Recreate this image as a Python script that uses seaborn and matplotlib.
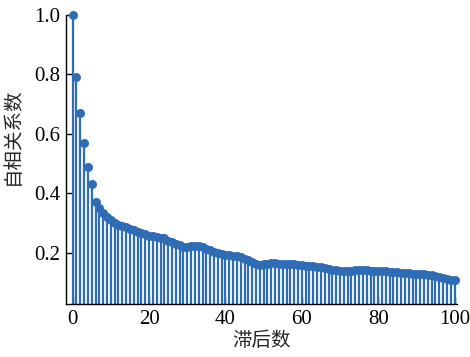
import numpy as np
import pandas as pd
import matplotlib
matplotlib.use("Agg")
import matplotlib.pyplot as plt
import seaborn as sns

lags = list(range(0, 101))
acf = [1.0, 0.79, 0.67, 0.57, 0.49, 0.43, 0.37, 0.35, 0.335, 0.32, 0.31,
       0.30, 0.295, 0.29, 0.285, 0.28, 0.275, 0.27, 0.265, 0.262, 0.258,
       0.255, 0.252, 0.25, 0.248, 0.24, 0.235, 0.23, 0.225, 0.22, 0.218,
       0.222, 0.224, 0.222, 0.218, 0.213, 0.208, 0.204, 0.2, 0.197, 0.194,
       0.191, 0.19, 0.188, 0.185, 0.18, 0.175, 0.168, 0.162, 0.16, 0.162,
       0.163, 0.164, 0.164, 0.163, 0.163, 0.162, 0.162, 0.161, 0.16, 0.158,
       0.157, 0.156, 0.155, 0.153, 0.151, 0.149, 0.146, 0.143, 0.141, 0.14,
       0.139, 0.139, 0.14, 0.141, 0.142, 0.142, 0.141, 0.14, 0.14, 0.139,
       0.138, 0.137, 0.136, 0.135, 0.134, 0.133, 0.132, 0.131, 0.13, 0.129,
       0.128, 0.127, 0.126, 0.125, 0.123, 0.12, 0.115, 0.11, 0.108, 0.109]
xticks = [0, 20, 40, 60, 80, 100]
yticks = [0.2, 0.4, 0.6, 0.8, 1.0]
xlabel = "滞后数"
ylabel = "自相关系数"

df = pd.DataFrame({"lag": lags, "acf": acf})

sns.set_theme(style="white")
plt.rcParams["font.family"] = ["Liberation Serif", "Noto Sans CJK SC"]

color = "#2E6DB5"
fig = plt.figure(figsize=(4.7, 3.57), dpi=100)
ax = fig.add_axes([0.140, 0.148, 0.832, 0.810])

ax.vlines(df["lag"], 0, df["acf"], color=color, linewidth=1.6, zorder=2)
sns.scatterplot(data=df, x="lag", y="acf", ax=ax, color=color, s=42,
                edgecolor=color, linewidth=0, zorder=3, legend=False,
                clip_on=False)

ax.set_xlim(-1.8, 100.6)
ax.set_ylim(0.027, 1.0)
ax.set_xticks(xticks)
ax.set_yticks(yticks)
ax.set_xticklabels([str(t) for t in xticks])
ax.set_yticklabels([f"{t:.1f}" for t in yticks])
ax.tick_params(direction="in", length=5, width=1, labelsize=15, colors="black",
               left=True, bottom=True, pad=4)
for s in ["top", "right"]:
    ax.spines[s].set_visible(False)
for s in ["left", "bottom"]:
    ax.spines[s].set_color("black")
    ax.spines[s].set_linewidth(1.0)

ax.set_xlabel(xlabel, fontsize=14, family=["Noto Sans CJK SC"], labelpad=1)
ax.set_ylabel(ylabel, fontsize=14, family=["Noto Sans CJK SC"])
ax.yaxis.set_label_coords(-0.11, 0.58)

fig.savefig("out.png", dpi=100)
